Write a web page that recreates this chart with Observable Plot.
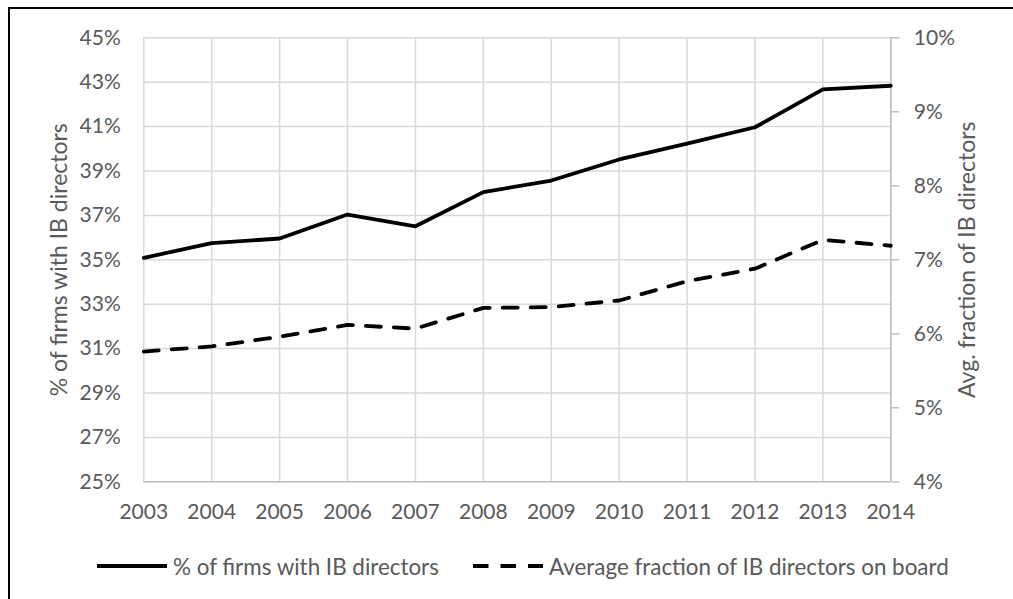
<!DOCTYPE html>
<html>
<head>
<meta charset="utf-8">
<script src="https://cdn.jsdelivr.net/npm/d3@7"></script>
<script src="https://cdn.jsdelivr.net/npm/@observablehq/plot@0.6"></script>
<style>
  html, body { margin: 0; padding: 0; background: #fff; }
  body { width: 1013px; height: 599px; position: relative; overflow: hidden; font-family: Lato, "Open Sans", sans-serif; }
  #frame { position: absolute; left: 8px; top: 7px; width: 1100px; height: 700px; border-top: 2px solid #000; border-left: 2px solid #000; box-sizing: border-box; }
  #chart { position: absolute; left: 0; top: 0; }
  .leg { position: absolute; top: 553px; height: 26px; display: flex; align-items: center; font-size: 22.4px; color: #595959; white-space: nowrap; }
  .leg svg { margin-right: 6px; }
</style>
</head>
<body>
<div id="frame"></div>
<div id="chart"></div>
<div class="leg" id="leg1" style="left:97px"></div>
<div class="leg" id="leg2" style="left:473px"></div>
<script>
const years = [2003, 2004, 2005, 2006, 2007, 2008, 2009, 2010, 2011, 2012, 2013, 2014];
const pctFirms = [35.09, 35.75, 35.96, 37.04, 36.51, 38.05, 38.57, 39.52, 40.23, 40.97, 42.68, 42.84];
const avgFraction = [5.76, 5.83, 5.96, 6.12, 6.07, 6.35, 6.36, 6.45, 6.71, 6.88, 7.27, 7.19];
const leftTicks = [25, 27, 29, 31, 33, 35, 37, 39, 41, 43, 45];
const rightTicks = [4, 5, 6, 7, 8, 9, 10];
const seriesNames = ["% of firms with IB directors", "Average fraction of IB directors on board"];
const leftTitle = "% of firms with IB directors";
const rightTitle = "Avg. fraction of IB directors";

const L0 = 25, L1 = 45, R0 = 4, R1 = 10;
const toLeft = v => L0 + (v - R0) * (L1 - L0) / (R1 - R0);
const fromLeft = v => R0 + (v - L0) * (R1 - R0) / (L1 - L0);

const rows = years.map((y, i) => ({year: y, firms: pctFirms[i], frac: toLeft(avgFraction[i])}));
const textColor = "#595959";
const dash = "15,13";

const chart = Plot.plot({
  width: 1013,
  height: 530,
  marginLeft: 143.3,
  marginRight: 122.7,
  marginTop: 37.3,
  marginBottom: 48.7,
  style: {fontFamily: "Lato, 'Open Sans', sans-serif", fontSize: "21px", color: textColor, background: "transparent", overflow: "visible"},
  x: {domain: [2003, 2014]},
  y: {domain: [L0, L1]},
  marks: [
    Plot.gridX(years, {stroke: "#d9d9d9", strokeOpacity: 1, strokeWidth: 1.5}),
    Plot.gridY(leftTicks, {stroke: "#d9d9d9", strokeOpacity: 1, strokeWidth: 1.5}),
    Plot.ruleY([L0], {stroke: "#bfbfbf", strokeWidth: 1.5}),
    Plot.ruleX([2014], {stroke: "#bfbfbf", strokeWidth: 1.5}),
    Plot.axisX(years, {tickSize: 0, tickPadding: 22, tickFormat: d => String(d), label: null, fill: textColor}),
    Plot.axisY(leftTicks, {anchor: "left", tickSize: 0, tickPadding: 23, tickFormat: d => d + "%", label: null, fill: textColor}),
    Plot.axisY(rightTicks.map(toLeft), {anchor: "right", tickSize: 8, tickPadding: 15, tickFormat: d => Math.round(fromLeft(d)) + "%", label: null, stroke: "#bfbfbf", strokeWidth: 1.5, fill: textColor}),
    Plot.text([leftTitle], {frameAnchor: "left", dx: -84, rotate: -90, textAnchor: "middle", lineAnchor: "middle", fill: textColor, fontSize: 23}),
    Plot.text([rightTitle], {frameAnchor: "right", dx: 77, rotate: -90, textAnchor: "middle", lineAnchor: "middle", fill: textColor, fontSize: 23}),
    Plot.line(rows, {x: "year", y: "frac", stroke: "#000", strokeWidth: 3.8, strokeDasharray: dash, strokeLinejoin: "round"}),
    Plot.line(rows, {x: "year", y: "firms", stroke: "#000", strokeWidth: 3.8, strokeLinejoin: "round"})
  ]
});
document.getElementById("chart").appendChild(chart);

function swatch(dashed) {
  const ns = "http://www.w3.org/2000/svg";
  const s = document.createElementNS(ns, "svg");
  s.setAttribute("width", 70); s.setAttribute("height", 10);
  const l = document.createElementNS(ns, "line");
  l.setAttribute("x1", 0); l.setAttribute("x2", 70); l.setAttribute("y1", 5); l.setAttribute("y2", 5);
  l.setAttribute("stroke", "#000"); l.setAttribute("stroke-width", 3.8);
  if (dashed) l.setAttribute("stroke-dasharray", "15.5,12");
  s.appendChild(l);
  return s;
}
[["leg1", false], ["leg2", true]].forEach(([id, d], i) => {
  const el = document.getElementById(id);
  el.appendChild(swatch(d));
  const t = document.createElement("span");
  t.textContent = seriesNames[i];
  el.appendChild(t);
});
</script>
</body>
</html>
